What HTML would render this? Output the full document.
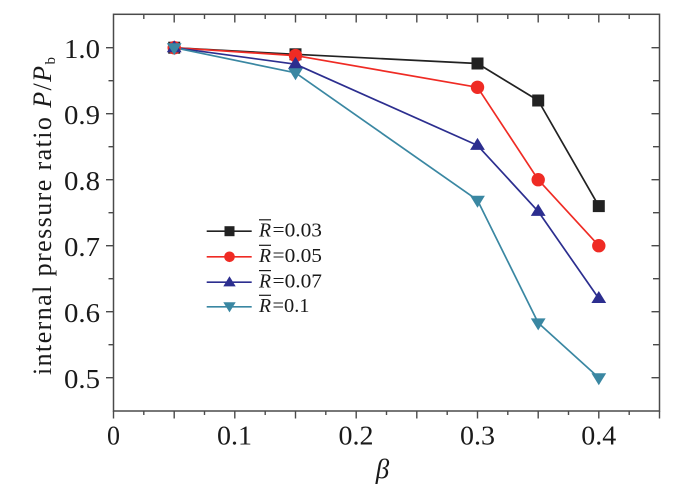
<!DOCTYPE html>
<html>
<head>
<meta charset="utf-8">
<style>
html,body{margin:0;padding:0;background:#fff;}
svg{display:block;}
text{font-family:"Liberation Serif","Times New Roman",Times,"Nimbus Roman","FreeSerif","DejaVu Serif",serif;fill:#1a1a1a;}
</style>
</head>
<body>
<svg width="680" height="489" viewBox="0 0 680 489" xmlns="http://www.w3.org/2000/svg">
<rect x="0" y="0" width="680" height="489" fill="#fff"/>

<!-- axes box -->
<rect x="113.5" y="14.3" width="546" height="396.7" fill="none" stroke="#4a4a4a" stroke-width="1.5"/>

<!-- bottom ticks (outward) -->
<g stroke="#4a4a4a" stroke-width="1.4">
<line x1="113.5" y1="411" x2="113.5" y2="418.5"/>
<line x1="143.8" y1="411" x2="143.8" y2="415"/>
<line x1="174.2" y1="411" x2="174.2" y2="418.5"/>
<line x1="204.5" y1="411" x2="204.5" y2="415"/>
<line x1="234.8" y1="411" x2="234.8" y2="418.5"/>
<line x1="265.2" y1="411" x2="265.2" y2="415"/>
<line x1="295.5" y1="411" x2="295.5" y2="418.5"/>
<line x1="325.8" y1="411" x2="325.8" y2="415"/>
<line x1="356.2" y1="411" x2="356.2" y2="418.5"/>
<line x1="386.5" y1="411" x2="386.5" y2="415"/>
<line x1="416.8" y1="411" x2="416.8" y2="418.5"/>
<line x1="447.2" y1="411" x2="447.2" y2="415"/>
<line x1="477.5" y1="411" x2="477.5" y2="418.5"/>
<line x1="507.8" y1="411" x2="507.8" y2="415"/>
<line x1="538.2" y1="411" x2="538.2" y2="418.5"/>
<line x1="568.5" y1="411" x2="568.5" y2="415"/>
<line x1="598.8" y1="411" x2="598.8" y2="418.5"/>
<line x1="629.2" y1="411" x2="629.2" y2="415"/>
<line x1="659.5" y1="411" x2="659.5" y2="418.5"/>
</g>
<!-- top ticks (inward) -->
<g stroke="#4a4a4a" stroke-width="1.4">
<line x1="143.8" y1="14.3" x2="143.8" y2="19"/>
<line x1="174.2" y1="14.3" x2="174.2" y2="22.5"/>
<line x1="204.5" y1="14.3" x2="204.5" y2="19"/>
<line x1="234.8" y1="14.3" x2="234.8" y2="22.5"/>
<line x1="265.2" y1="14.3" x2="265.2" y2="19"/>
<line x1="295.5" y1="14.3" x2="295.5" y2="22.5"/>
<line x1="325.8" y1="14.3" x2="325.8" y2="19"/>
<line x1="356.2" y1="14.3" x2="356.2" y2="22.5"/>
<line x1="386.5" y1="14.3" x2="386.5" y2="19"/>
<line x1="416.8" y1="14.3" x2="416.8" y2="22.5"/>
<line x1="447.2" y1="14.3" x2="447.2" y2="19"/>
<line x1="477.5" y1="14.3" x2="477.5" y2="22.5"/>
<line x1="507.8" y1="14.3" x2="507.8" y2="19"/>
<line x1="538.2" y1="14.3" x2="538.2" y2="22.5"/>
<line x1="568.5" y1="14.3" x2="568.5" y2="19"/>
<line x1="598.8" y1="14.3" x2="598.8" y2="22.5"/>
<line x1="629.2" y1="14.3" x2="629.2" y2="19"/>
</g>
<!-- left ticks (outward) -->
<g stroke="#4a4a4a" stroke-width="1.4">
<line x1="113.5" y1="47.7" x2="106" y2="47.7"/>
<line x1="113.5" y1="80.7" x2="108.5" y2="80.7"/>
<line x1="113.5" y1="113.7" x2="106" y2="113.7"/>
<line x1="113.5" y1="146.7" x2="108.5" y2="146.7"/>
<line x1="113.5" y1="179.7" x2="106" y2="179.7"/>
<line x1="113.5" y1="212.7" x2="108.5" y2="212.7"/>
<line x1="113.5" y1="245.7" x2="106" y2="245.7"/>
<line x1="113.5" y1="278.7" x2="108.5" y2="278.7"/>
<line x1="113.5" y1="311.7" x2="106" y2="311.7"/>
<line x1="113.5" y1="344.7" x2="108.5" y2="344.7"/>
<line x1="113.5" y1="377.7" x2="106" y2="377.7"/>
</g>
<!-- right ticks (inward) -->
<g stroke="#4a4a4a" stroke-width="1.4">
<line x1="659.5" y1="47.7" x2="651.5" y2="47.7"/>
<line x1="659.5" y1="80.7" x2="653" y2="80.7"/>
<line x1="659.5" y1="113.7" x2="651.5" y2="113.7"/>
<line x1="659.5" y1="146.7" x2="653" y2="146.7"/>
<line x1="659.5" y1="179.7" x2="651.5" y2="179.7"/>
<line x1="659.5" y1="212.7" x2="653" y2="212.7"/>
<line x1="659.5" y1="245.7" x2="651.5" y2="245.7"/>
<line x1="659.5" y1="278.7" x2="653" y2="278.7"/>
<line x1="659.5" y1="311.7" x2="651.5" y2="311.7"/>
<line x1="659.5" y1="344.7" x2="653" y2="344.7"/>
<line x1="659.5" y1="377.7" x2="651.5" y2="377.7"/>
</g>

<!-- y tick labels -->
<g font-size="27">
<text x="64" y="57.8" textLength="36" lengthAdjust="spacingAndGlyphs">1.0</text>
<text x="64" y="123.8" textLength="36" lengthAdjust="spacingAndGlyphs">0.9</text>
<text x="64" y="189.8" textLength="36" lengthAdjust="spacingAndGlyphs">0.8</text>
<text x="64" y="255.8" textLength="36" lengthAdjust="spacingAndGlyphs">0.7</text>
<text x="64" y="321.8" textLength="36" lengthAdjust="spacingAndGlyphs">0.6</text>
<text x="64" y="387.8" textLength="36" lengthAdjust="spacingAndGlyphs">0.5</text>
</g>
<!-- x tick labels -->
<g font-size="27">
<text x="107" y="444.5" textLength="13" lengthAdjust="spacingAndGlyphs">0</text>
<text x="217" y="444.5" textLength="35" lengthAdjust="spacingAndGlyphs">0.1</text>
<text x="338.5" y="444.5" textLength="35" lengthAdjust="spacingAndGlyphs">0.2</text>
<text x="460" y="444.5" textLength="35" lengthAdjust="spacingAndGlyphs">0.3</text>
<text x="581.3" y="444.5" textLength="35" lengthAdjust="spacingAndGlyphs">0.4</text>
</g>

<!-- axis titles -->
<text x="382.5" y="478" font-size="27" font-style="italic" text-anchor="middle">β</text>
<g transform="translate(51,375) rotate(-90)">
<text x="0" y="0" font-size="26" textLength="318" lengthAdjust="spacing">internal pressure ratio <tspan font-style="italic">P</tspan>/<tspan font-style="italic">P</tspan><tspan font-size="15" dy="4">b</tspan></text>
</g>

<!-- series lines -->
<g fill="none" stroke-width="1.7" stroke-linejoin="round">
<polyline stroke="#222222" points="174.2,47.7 295.5,54.3 477.5,63.5 538.2,100.5 598.8,206.1"/>
<polyline stroke="#ef2b24" points="174.2,47.7 295.5,55.6 477.5,87.3 538.2,179.7 598.8,245.7"/>
<polyline stroke="#2c2e8f" points="174.2,47.7 295.5,64.2 477.5,145.4 538.2,211.4 598.8,298.5"/>
<polyline stroke="#3a87a2" points="174.2,47.7 295.5,72.8 477.5,200.2 538.2,322.9 598.8,377.7"/>
</g>

<!-- markers: black squares -->
<g fill="#222222">
<rect x="168.2" y="41.7" width="12" height="12"/>
<rect x="289.5" y="48.3" width="12" height="12"/>
<rect x="471.5" y="57.5" width="12" height="12"/>
<rect x="532.2" y="94.5" width="12" height="12"/>
<rect x="592.8" y="200.1" width="12" height="12"/>
</g>
<!-- red circles -->
<g fill="#ef2b24">
<circle cx="174.2" cy="47.7" r="6.7"/>
<circle cx="295.5" cy="55.6" r="6.7"/>
<circle cx="477.5" cy="87.3" r="6.7"/>
<circle cx="538.2" cy="179.7" r="6.7"/>
<circle cx="598.8" cy="245.7" r="6.7"/>
</g>
<!-- blue up triangles -->
<g fill="#2c2e8f">
<polygon points="174.2,40.2 181.6,52.2 166.8,52.2"/>
<polygon points="295.5,56.7 302.9,68.7 288.1,68.7"/>
<polygon points="477.5,137.9 484.9,149.9 470.1,149.9"/>
<polygon points="538.2,203.9 545.6,215.9 530.8,215.9"/>
<polygon points="598.8,291 606.2,303 591.4,303"/>
</g>
<!-- teal down triangles -->
<g fill="#3a87a2">
<polygon points="166.8,43.2 181.6,43.2 174.2,55.2"/>
<polygon points="288.1,68.3 302.9,68.3 295.5,80.3"/>
<polygon points="470.1,195.7 484.9,195.7 477.5,207.7"/>
<polygon points="530.8,318.4 545.6,318.4 538.2,330.4"/>
<polygon points="591.4,373.2 606.2,373.2 598.8,385.2"/>
</g>

<!-- legend -->
<g stroke-width="1.7">
<line x1="206.7" y1="231.2" x2="251.7" y2="231.2" stroke="#222222"/>
<line x1="206.7" y1="256.8" x2="251.7" y2="256.8" stroke="#ef2b24"/>
<line x1="206.7" y1="282.2" x2="251.7" y2="282.2" stroke="#2c2e8f"/>
<line x1="206.7" y1="306.8" x2="251.7" y2="306.8" stroke="#3a87a2"/>
</g>
<rect x="224.5" y="226.2" width="10" height="10" fill="#222222"/>
<circle cx="229.5" cy="256.8" r="5.3" fill="#ef2b24"/>
<polygon points="229.5,276.2 235.7,286.4 223.3,286.4" fill="#2c2e8f"/>
<polygon points="223.3,302.2 235.7,302.2 229.5,312.4" fill="#3a87a2"/>

<g font-size="20">
<text x="259" y="236.5" font-style="italic" textLength="12" lengthAdjust="spacingAndGlyphs">R</text>
<text x="272.5" y="236.5" textLength="49.5" lengthAdjust="spacingAndGlyphs">=0.03</text>
<text x="259" y="262" font-style="italic" textLength="12" lengthAdjust="spacingAndGlyphs">R</text>
<text x="272.5" y="262" textLength="49.5" lengthAdjust="spacingAndGlyphs">=0.05</text>
<text x="259" y="287.3" font-style="italic" textLength="12" lengthAdjust="spacingAndGlyphs">R</text>
<text x="272.5" y="287.3" textLength="49.5" lengthAdjust="spacingAndGlyphs">=0.07</text>
<text x="259" y="312" font-style="italic" textLength="12" lengthAdjust="spacingAndGlyphs">R</text>
<text x="272.5" y="312" textLength="37" lengthAdjust="spacingAndGlyphs">=0.1</text>
</g>
<g stroke="#1a1a1a" stroke-width="1.2">
<line x1="259" y1="219.8" x2="271" y2="219.8"/>
<line x1="259" y1="245.3" x2="271" y2="245.3"/>
<line x1="259" y1="270.6" x2="271" y2="270.6"/>
<line x1="259" y1="295.3" x2="271" y2="295.3"/>
</g>
</svg>
</body>
</html>
